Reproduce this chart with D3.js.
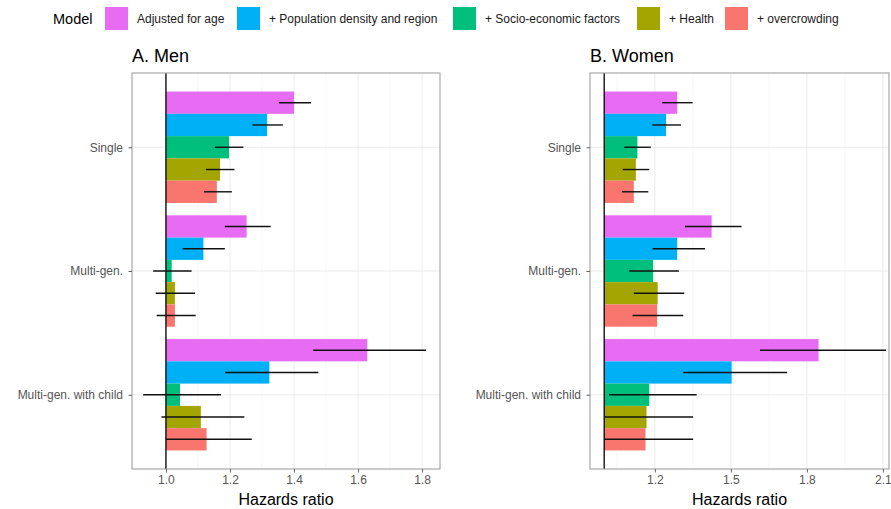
<!DOCTYPE html>
<html>
<head>
<meta charset="utf-8">
<script src="https://cdn.jsdelivr.net/npm/d3@7"></script>
<style>
  body { margin: 0; background: #fff; }
  svg { font-family: "Liberation Sans", Arial, sans-serif; }
</style>
</head>
<body>
<svg id="chart" width="891" height="509"></svg>
<script>
// household types (y categories)
const categories = ['Single', 'Multi-gen.', 'Multi-gen. with child'];
const models = ['Adjusted for age', '+ Population density and region', '+ Socio-economic factors', '+ Health', '+ overcrowding'];
const modelColors = ['#E76BF3', '#00B0F6', '#00BF7D', '#A3A500', '#F8766D'];

// hazard ratios, one row per category, one value per model
const menHR = [
  [1.40, 1.316, 1.197, 1.169, 1.159],
  [1.252, 1.117, 1.018, 1.028, 1.028],
  [1.629, 1.323, 1.044, 1.109, 1.127]
];
const menLo = [
  [1.353, 1.27, 1.153, 1.125, 1.119],
  [1.184, 1.052, 0.96, 0.968, 0.971],
  [1.46, 1.185, 0.929, 0.986, 1.0]
];
const menHi = [
  [1.453, 1.365, 1.242, 1.214, 1.206],
  [1.327, 1.184, 1.08, 1.091, 1.093],
  [1.8125, 1.476, 1.172, 1.245, 1.268]
];
const womenHR = [
  [1.288, 1.244, 1.131, 1.125, 1.117],
  [1.424, 1.288, 1.193, 1.211, 1.209],
  [1.846, 1.503, 1.178, 1.167, 1.163]
];
const womenLo = [
  [1.229, 1.19, 1.079, 1.073, 1.07],
  [1.319, 1.191, 1.099, 1.117, 1.112],
  [1.615, 1.312, 1.019, 1.003, 1.0]
];
const womenHi = [
  [1.349, 1.303, 1.184, 1.178, 1.174],
  [1.542, 1.398, 1.295, 1.316, 1.312],
  [2.112, 1.722, 1.365, 1.351, 1.351]
];

const menTicks = [1.0, 1.2, 1.4, 1.6, 1.8];
const menMinor = [0.9, 1.1, 1.3, 1.5, 1.7];
const womenTicks = [1.2, 1.5, 1.8, 2.1];
const womenMinor = [1.05, 1.35, 1.65, 1.95];

const svg = d3.select('#chart');
const font = '"Liberation Sans", Arial, sans-serif';

// legend
const legend = svg.append('g');
legend.append('text')
  .attr('x', 53).attr('y', 24)
  .attr('font-size', '14.5px').attr('fill', '#000')
  .text('Model');
const legendX = [105, 237, 453, 637, 725];
models.forEach((m, i) => {
  legend.append('rect')
    .attr('x', legendX[i]).attr('y', 7)
    .attr('width', 23).attr('height', 23)
    .attr('fill', modelColors[i]);
  legend.append('text')
    .attr('x', legendX[i] + 32).attr('y', 23)
    .attr('font-size', '12px').attr('fill', '#1a1a1a')
    .text(m);
});

function drawPanel(opts) {
  const top = 73, bottom = 469;
  const x = d3.scaleLinear().domain(opts.domain).range([opts.left, opts.right]);
  const y = d3.scalePoint().domain(categories).range([top, bottom]).padding(0.6);
  const step = y.step();
  const inner = d3.scaleBand().domain(models).range([-0.45 * step, 0.45 * step]).padding(0);

  const g = svg.append('g');

  // title
  g.append('text')
    .attr('x', opts.left).attr('y', 62)
    .attr('font-size', '18px').attr('fill', '#000')
    .text(opts.title);

  // grid
  g.selectAll('.minor').data(opts.minor).enter().append('line')
    .attr('x1', d => x(d)).attr('x2', d => x(d))
    .attr('y1', top).attr('y2', bottom)
    .attr('stroke', '#f2f2f2').attr('stroke-width', 0.6);
  g.selectAll('.major').data(opts.ticks).enter().append('line')
    .attr('x1', d => x(d)).attr('x2', d => x(d))
    .attr('y1', top).attr('y2', bottom)
    .attr('stroke', '#ebebeb').attr('stroke-width', 1);
  g.selectAll('.hgrid').data(categories).enter().append('line')
    .attr('x1', opts.left).attr('x2', opts.right)
    .attr('y1', d => y(d)).attr('y2', d => y(d))
    .attr('stroke', '#ebebeb').attr('stroke-width', 1);

  // bars
  categories.forEach((c, ci) => {
    models.forEach((m, mi) => {
      const v = opts.hr[ci][mi];
      const y0 = y(c) + inner(m);
      g.append('rect')
        .attr('x', x(Math.min(1, v)))
        .attr('y', y0)
        .attr('width', Math.abs(x(v) - x(1)))
        .attr('height', inner.bandwidth())
        .attr('fill', modelColors[mi]);
    });
  });

  // reference line at 1
  g.append('line')
    .attr('x1', x(1)).attr('x2', x(1))
    .attr('y1', top).attr('y2', bottom)
    .attr('stroke', '#000').attr('stroke-width', 1.3);

  // confidence intervals
  categories.forEach((c, ci) => {
    models.forEach((m, mi) => {
      const yc = y(c) + inner(m) + inner.bandwidth() / 2;
      g.append('line')
        .attr('x1', x(opts.lo[ci][mi])).attr('x2', x(opts.hi[ci][mi]))
        .attr('y1', yc).attr('y2', yc)
        .attr('stroke', '#111').attr('stroke-width', 1.4);
    });
  });

  // panel border
  g.append('rect')
    .attr('x', opts.left).attr('y', top)
    .attr('width', opts.right - opts.left).attr('height', bottom - top)
    .attr('fill', 'none').attr('stroke', '#a0a0a0').attr('stroke-width', 1.1);

  // x axis
  const xAxis = g.append('g')
    .attr('transform', `translate(0,${bottom})`)
    .call(d3.axisBottom(x).tickValues(opts.ticks).tickFormat(d3.format('.1f')).tickSize(3.5).tickPadding(3));
  xAxis.select('.domain').remove();
  xAxis.selectAll('line').attr('stroke', '#666');
  xAxis.selectAll('text').attr('fill', '#555').attr('font-size', '12px')
    .attr('font-family', font);

  // y axis
  const yAxis = g.append('g')
    .attr('transform', `translate(${opts.left},0)`)
    .call(d3.axisLeft(y).tickSize(3.5).tickPadding(5.5));
  yAxis.select('.domain').remove();
  yAxis.selectAll('line').attr('stroke', '#666');
  yAxis.selectAll('text').attr('fill', '#555').attr('font-size', '12px')
    .attr('font-family', font);

  // axis title
  g.append('text')
    .attr('x', (opts.left + opts.right) / 2).attr('y', 505)
    .attr('text-anchor', 'middle')
    .attr('font-size', '16px').attr('fill', '#000')
    .text('Hazards ratio');
}

drawPanel({
  title: 'A. Men', left: 132, right: 440, domain: [0.894, 1.856],
  ticks: menTicks, minor: menMinor, hr: menHR, lo: menLo, hi: menHi
});
drawPanel({
  title: 'B. Women', left: 590, right: 889, domain: [0.944, 2.124],
  ticks: womenTicks, minor: womenMinor, hr: womenHR, lo: womenLo, hi: womenHi
});
</script>
</body>
</html>
